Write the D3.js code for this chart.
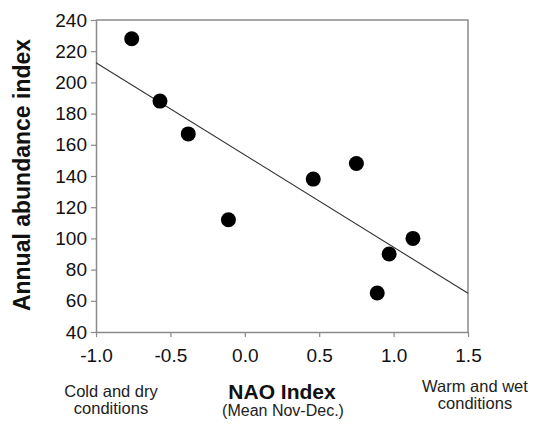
<!DOCTYPE html>
<html>
<head>
<meta charset="utf-8">
<script src="https://cdn.jsdelivr.net/npm/d3@7"></script>
<style>
  body { margin: 0; background: #fff; }
  svg { display: block; font-family: "Liberation Sans", Arial, sans-serif; }
</style>
</head>
<body>
<svg width="543" height="428"></svg>
<script>
// data
const naoIndex = [-0.76, -0.57, -0.38, -0.11, 0.46, 0.75, 0.89, 0.97, 1.13];
const abundance = [228, 188, 167, 112, 138, 148, 65, 90, 100];
const fitX = [-1.0, 1.5];
const fitY = [212.6, 64.8];
const xTicks = [-1.0, -0.5, 0.0, 0.5, 1.0, 1.5];
const yTicks = [40, 60, 80, 100, 120, 140, 160, 180, 200, 220, 240];

const MARGINS = { top: 20, right: 75, bottom: 96, left: 96 };
const W = 543, H = 428;
const frameColor = "#8a8a8a";

const svg = d3.select("svg");

const x = d3.scaleLinear().domain([-1.0, 1.5]).range([MARGINS.left, W - MARGINS.right]);
const y = d3.scaleLinear().domain([40, 240]).range([H - MARGINS.bottom, MARGINS.top]);

// y axis
const yAxis = svg.append("g")
  .attr("transform", `translate(${MARGINS.left},0)`)
  .call(d3.axisLeft(y).tickValues(yTicks).tickSize(5).tickSizeOuter(0).tickPadding(4));

// x axis
const xAxis = svg.append("g")
  .attr("transform", `translate(0,${H - MARGINS.bottom})`)
  .call(d3.axisBottom(x).tickValues(xTicks).tickFormat(d3.format(".1f")).tickSize(5).tickSizeOuter(0).tickPadding(12));

[yAxis, xAxis].forEach(a => {
  a.select(".domain").attr("stroke", frameColor).attr("stroke-width", 1.5);
  a.selectAll(".tick line").attr("stroke", frameColor).attr("stroke-width", 1.2);
  a.selectAll(".tick text").attr("fill", "#111").style("font-size", "19px").attr("font-family", null);
});
xAxis.selectAll(".tick text").text(d => d3.format(".1f")(d).replace("−", "-"));

// top and right frame
svg.append("path")
  .attr("d", `M${x(-1.0)},${y(240)}H${x(1.5)}V${y(40)}`)
  .attr("fill", "none")
  .attr("stroke", frameColor)
  .attr("stroke-width", 1.5);

// regression line
svg.append("line")
  .attr("x1", x(fitX[0])).attr("y1", y(fitY[0]))
  .attr("x2", x(fitX[1])).attr("y2", y(fitY[1]))
  .attr("stroke", "#333")
  .attr("stroke-width", 1.1);

// points
svg.append("g")
  .selectAll("circle")
  .data(naoIndex.map((d, i) => ({ nao: d, value: abundance[i] })))
  .join("circle")
  .attr("cx", d => x(d.nao))
  .attr("cy", d => y(d.value))
  .attr("r", 7.5)
  .attr("fill", "#000");

// y label
svg.append("text")
  .attr("transform", `translate(30,${(y(40) + y(240)) / 2 - 1}) rotate(-90)`)
  .attr("text-anchor", "middle")
  .style("font-size", "23px")
  .style("font-weight", "bold")
  .attr("fill", "#111")
  .text("Annual abundance index");

// x labels
svg.append("text")
  .attr("x", 282).attr("y", 399)
  .attr("text-anchor", "middle")
  .style("font-size", "21px")
  .style("font-weight", "bold")
  .attr("fill", "#111")
  .text("NAO Index");

svg.append("text")
  .attr("x", 283).attr("y", 416)
  .attr("text-anchor", "middle")
  .style("font-size", "16px")
  .attr("fill", "#222")
  .text("(Mean Nov-Dec.)");

const sideNotes = [
  { x: 111, y: 397, lines: ["Cold and dry", "conditions"] },
  { x: 475, y: 392, lines: ["Warm and wet", "conditions"] }
];
sideNotes.forEach(n => {
  const t = svg.append("text")
    .attr("text-anchor", "middle")
    .style("font-size", "16.5px")
    .attr("fill", "#222");
  n.lines.forEach((l, i) => {
    t.append("tspan").attr("x", n.x).attr("y", n.y + i * 17).text(l);
  });
});
</script>
</body>
</html>
